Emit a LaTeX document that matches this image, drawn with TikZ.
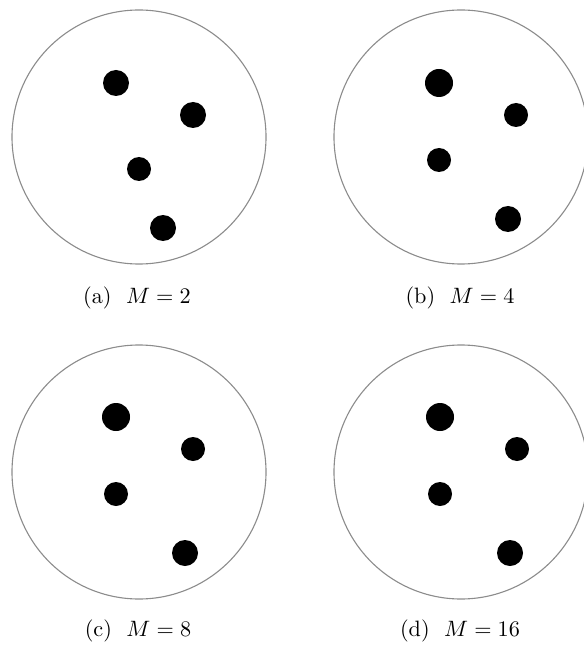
\documentclass[tikz,border=0pt]{standalone}
\begin{document}
\begin{tikzpicture}[x=0.45pt,y=-0.45pt,
  outer/.style={circle,draw=black!45,line width=0.5pt,minimum size=114.3pt,inner sep=0pt},
  dotL/.style={circle,fill=black,minimum size=12.6pt,inner sep=0pt},
  dotM/.style={circle,fill=black,minimum size=11.7pt,inner sep=0pt},
  dotS/.style={circle,fill=black,minimum size=10.8pt,inner sep=0pt},
  sublabel/.style={inner sep=0pt,font=\fontsize{10}{12}\selectfont}]
\useasboundingbox (0,0) rectangle (583,646);
% (a)
\node[outer] (ca) at (139,137) {};
\node[dotM] (a1) at (116,83) {};
\node[dotM] (a2) at (193,115) {};
\node[dotS] (a3) at (139,169) {};
\node[dotM] (a4) at (163,228) {};
\node[sublabel] (la) at (137,298) {(a)\hspace{6.5pt}$M=2$};
% (b)
\node[outer] (cb) at (461,137) {};
\node[dotL] (b1) at (439,83) {};
\node[dotS] (b2) at (516,115) {};
\node[dotS] (b3) at (439,160) {};
\node[dotM] (b4) at (508,219) {};
\node[sublabel] (lb) at (460,298) {(b)\hspace{6.5pt}$M=4$};
% (c)
\node[outer] (cc) at (139,472) {};
\node[dotL] (c1) at (116,417) {};
\node[dotS] (c2) at (193,449) {};
\node[dotS] (c3) at (116,494) {};
\node[dotM] (c4) at (185,553) {};
\node[sublabel] (lc) at (138,631) {(c)\hspace{6.5pt}$M=8$};
% (d)
\node[outer] (cd) at (461,472) {};
\node[dotL] (d1) at (440,417) {};
\node[dotS] (d2) at (517,449) {};
\node[dotS] (d3) at (440,494) {};
\node[dotM] (d4) at (510,553) {};
\node[sublabel] (ld) at (460,631) {(d)\hspace{6.5pt}$M=16$};
\end{tikzpicture}
\end{document}
